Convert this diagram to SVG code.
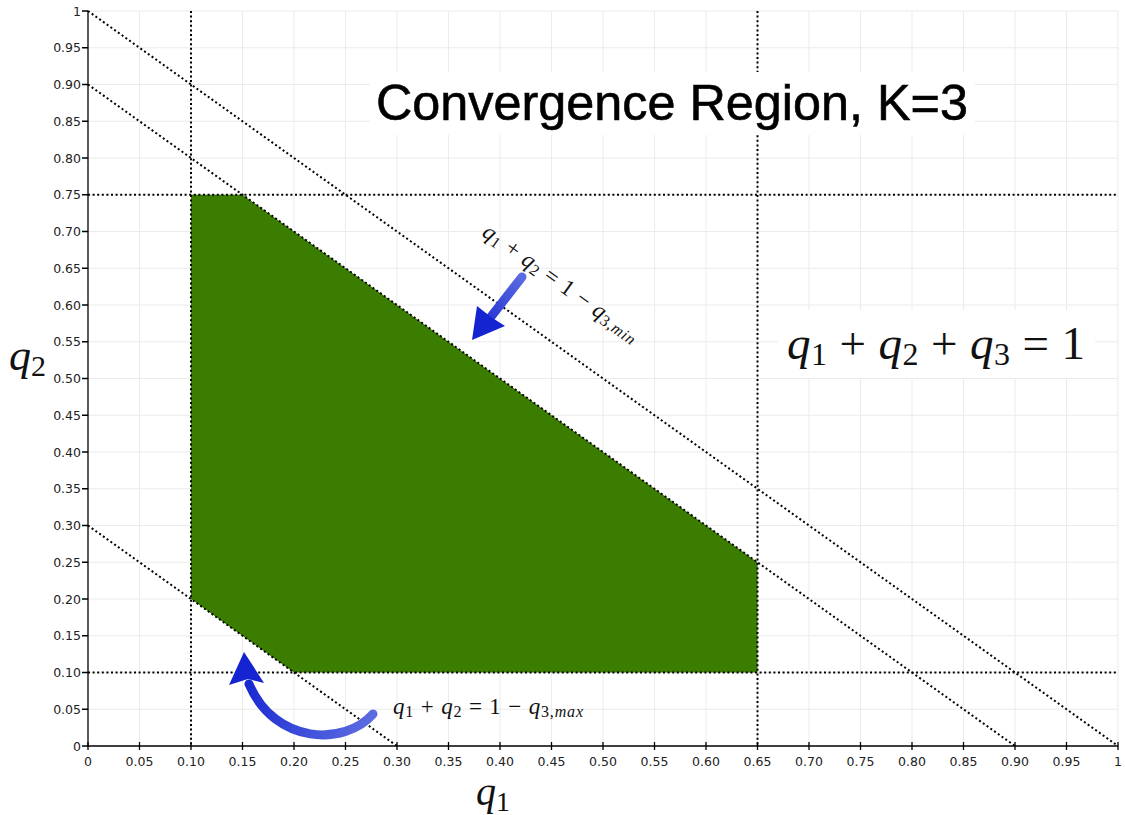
<svg xmlns="http://www.w3.org/2000/svg" width="1125" height="815" viewBox="0 0 1125 815">
<defs>
<style>
.grid line{stroke:#ebebeb;stroke-width:1}
.dot{stroke:#000;stroke-width:2;stroke-dasharray:2 2.6;fill:none}
.axis{stroke:#000;stroke-width:1.3}
.tk{font-family:"DejaVu Sans","Liberation Sans",sans-serif;font-size:12.5px;fill:#222}
.ylab{text-anchor:end}
.xlab{text-anchor:middle}
.m{font-family:"Liberation Serif","DejaVu Serif",serif;fill:#111}
.i{font-style:italic}
</style>
<linearGradient id="g1" gradientUnits="userSpaceOnUse" x1="522" y1="277" x2="472" y2="340">
<stop offset="0" stop-color="#5a6ae0"/><stop offset="1" stop-color="#1020cf"/>
</linearGradient>
<linearGradient id="g2" gradientUnits="userSpaceOnUse" x1="373" y1="714" x2="244" y2="652">
<stop offset="0" stop-color="#5a6ae0"/><stop offset="1" stop-color="#1020cf"/>
</linearGradient>
</defs>
<rect width="1125" height="815" fill="#fff"/>
<g class="grid">
<line x1="139.5" y1="11" x2="139.5" y2="746"/><line x1="191" y1="11" x2="191" y2="746"/><line x1="242.5" y1="11" x2="242.5" y2="746"/><line x1="294" y1="11" x2="294" y2="746"/><line x1="345.5" y1="11" x2="345.5" y2="746"/><line x1="397" y1="11" x2="397" y2="746"/><line x1="448.5" y1="11" x2="448.5" y2="746"/><line x1="500" y1="11" x2="500" y2="746"/><line x1="551.5" y1="11" x2="551.5" y2="746"/><line x1="603" y1="11" x2="603" y2="746"/><line x1="654.5" y1="11" x2="654.5" y2="746"/><line x1="706" y1="11" x2="706" y2="746"/><line x1="757.5" y1="11" x2="757.5" y2="746"/><line x1="809" y1="11" x2="809" y2="746"/><line x1="860.5" y1="11" x2="860.5" y2="746"/><line x1="912" y1="11" x2="912" y2="746"/><line x1="963.5" y1="11" x2="963.5" y2="746"/><line x1="1015" y1="11" x2="1015" y2="746"/><line x1="1066.5" y1="11" x2="1066.5" y2="746"/><line x1="1118" y1="11" x2="1118" y2="746"/>
<line x1="88" y1="709.25" x2="1118" y2="709.25"/><line x1="88" y1="672.5" x2="1118" y2="672.5"/><line x1="88" y1="635.75" x2="1118" y2="635.75"/><line x1="88" y1="599" x2="1118" y2="599"/><line x1="88" y1="562.25" x2="1118" y2="562.25"/><line x1="88" y1="525.5" x2="1118" y2="525.5"/><line x1="88" y1="488.75" x2="1118" y2="488.75"/><line x1="88" y1="452" x2="1118" y2="452"/><line x1="88" y1="415.25" x2="1118" y2="415.25"/><line x1="88" y1="378.5" x2="1118" y2="378.5"/><line x1="88" y1="341.75" x2="1118" y2="341.75"/><line x1="88" y1="305" x2="1118" y2="305"/><line x1="88" y1="268.25" x2="1118" y2="268.25"/><line x1="88" y1="231.5" x2="1118" y2="231.5"/><line x1="88" y1="194.75" x2="1118" y2="194.75"/><line x1="88" y1="158" x2="1118" y2="158"/><line x1="88" y1="121.25" x2="1118" y2="121.25"/><line x1="88" y1="84.5" x2="1118" y2="84.5"/><line x1="88" y1="47.75" x2="1118" y2="47.75"/><line x1="88" y1="11" x2="1118" y2="11"/>
</g>
<g id="region">
<polygon points="191,194.75 242.5,194.75 757.5,562.25 757.5,672.5 294,672.5 191,599" fill="#3b7d00"/>
</g>
<g id="lines">
<line class="dot" x1="88" y1="11" x2="1118" y2="746"/>
<line class="dot" x1="88" y1="84.5" x2="1015" y2="746"/>
<line class="dot" x1="88" y1="525.5" x2="397" y2="746"/>
<line class="dot" x1="191" y1="11" x2="191" y2="746"/>
<line class="dot" x1="757.5" y1="11" x2="757.5" y2="746"/>
<line class="dot" x1="88" y1="194.75" x2="1118" y2="194.75"/>
<line class="dot" x1="88" y1="672.5" x2="1118" y2="672.5"/>
</g>
<g id="axes">
<line class="axis" x1="88" y1="11" x2="88" y2="746.5"/>
<line class="axis" x1="87.5" y1="746" x2="1118" y2="746"/>
<path class="axis" d="M82,746H88M82,709.25H88M82,672.5H88M82,635.75H88M82,599H88M82,562.25H88M82,525.5H88M82,488.75H88M82,452H88M82,415.25H88M82,378.5H88M82,341.75H88M82,305H88M82,268.25H88M82,231.5H88M82,194.75H88M82,158H88M82,121.25H88M82,84.5H88M82,47.75H88M82,11H88"/>
<path class="axis" d="M88,742V750M139.5,742V750M191,742V750M242.5,742V750M294,742V750M345.5,742V750M397,742V750M448.5,742V750M500,742V750M551.5,742V750M603,742V750M654.5,742V750M706,742V750M757.5,742V750M809,742V750M860.5,742V750M912,742V750M963.5,742V750M1015,742V750M1066.5,742V750M1118,742V750"/>
<g class="tk ylab">
<text x="81" y="750.5">0</text><text x="81" y="713.75">0.05</text><text x="81" y="677">0.10</text><text x="81" y="640.25">0.15</text><text x="81" y="603.5">0.20</text><text x="81" y="566.75">0.25</text><text x="81" y="530">0.30</text><text x="81" y="493.25">0.35</text><text x="81" y="456.5">0.40</text><text x="81" y="419.75">0.45</text><text x="81" y="383">0.50</text><text x="81" y="346.25">0.55</text><text x="81" y="309.5">0.60</text><text x="81" y="272.75">0.65</text><text x="81" y="236">0.70</text><text x="81" y="199.25">0.75</text><text x="81" y="162.5">0.80</text><text x="81" y="125.75">0.85</text><text x="81" y="89">0.90</text><text x="81" y="52.25">0.95</text><text x="81" y="15.5">1</text>
</g>
<g class="tk xlab">
<text x="88" y="766">0</text><text x="139.5" y="766">0.05</text><text x="191" y="766">0.10</text><text x="242.5" y="766">0.15</text><text x="294" y="766">0.20</text><text x="345.5" y="766">0.25</text><text x="397" y="766">0.30</text><text x="448.5" y="766">0.35</text><text x="500" y="766">0.40</text><text x="551.5" y="766">0.45</text><text x="603" y="766">0.50</text><text x="654.5" y="766">0.55</text><text x="706" y="766">0.60</text><text x="757.5" y="766">0.65</text><text x="809" y="766">0.70</text><text x="860.5" y="766">0.75</text><text x="912" y="766">0.80</text><text x="963.5" y="766">0.85</text><text x="1015" y="766">0.90</text><text x="1066.5" y="766">0.95</text><text x="1118" y="766">1</text>
</g>
</g>
<g id="axis-labels">
<text class="m" x="476" y="805" font-size="40"><tspan class="i">q</tspan><tspan font-size="28" dy="6">1</tspan></text>
<text class="m" x="9" y="370" font-size="44"><tspan class="i">q</tspan><tspan font-size="30" dy="6">2</tspan></text>
</g>
<g id="title">
<rect x="370" y="72" width="605" height="63" fill="#fff"/>
<text x="376" y="120" font-family="'Liberation Sans',Arial,sans-serif" font-size="50" fill="#000" stroke="#000" stroke-width="0.6" textLength="592" lengthAdjust="spacingAndGlyphs">Convergence Region, K=3</text>
</g>
<g id="sum-label">
<rect x="778" y="310" width="317" height="68" fill="#fff"/>
<text class="m" x="787" y="359" font-size="47" textLength="298" lengthAdjust="spacing"><tspan class="i">q</tspan><tspan font-size="32" dy="6">1</tspan><tspan dy="-6"> + </tspan><tspan class="i">q</tspan><tspan font-size="32" dy="6">2</tspan><tspan dy="-6"> + </tspan><tspan class="i">q</tspan><tspan font-size="32" dy="6">3</tspan><tspan dy="-6"> = 1</tspan></text>
</g>
<g id="min-label">
<text class="m" x="481" y="235" font-size="23" transform="rotate(35.5 481 235)" textLength="186" lengthAdjust="spacing"><tspan class="i">q</tspan><tspan font-size="16" dy="3">1</tspan><tspan dy="-3"> + </tspan><tspan class="i">q</tspan><tspan font-size="16" dy="3">2</tspan><tspan dy="-3"> = 1 − </tspan><tspan class="i">q</tspan><tspan font-size="16" dy="3">3,<tspan class="i">min</tspan></tspan></text>
</g>
<g id="max-label">
<text class="m" x="393" y="714" font-size="23" textLength="190" lengthAdjust="spacing"><tspan class="i">q</tspan><tspan font-size="16" dy="3">1</tspan><tspan dy="-3"> + </tspan><tspan class="i">q</tspan><tspan font-size="16" dy="3">2</tspan><tspan dy="-3"> = 1 − </tspan><tspan class="i">q</tspan><tspan font-size="16" dy="3">3,<tspan class="i">max</tspan></tspan></text>
</g>
<g id="arrows">
<path d="M522,277 L490,318" stroke="url(#g1)" stroke-width="9" stroke-linecap="round" fill="none"/>
<polygon points="472,340 477,306 491,317 505,326" fill="#1424d0"/>
<path d="M373,714 C345,746 275,745 249,684" stroke="url(#g2)" stroke-width="9" stroke-linecap="round" fill="none"/>
<polygon points="244,652 264,683 248,679 229,685" fill="#1424d0"/>
</g>
</svg>
